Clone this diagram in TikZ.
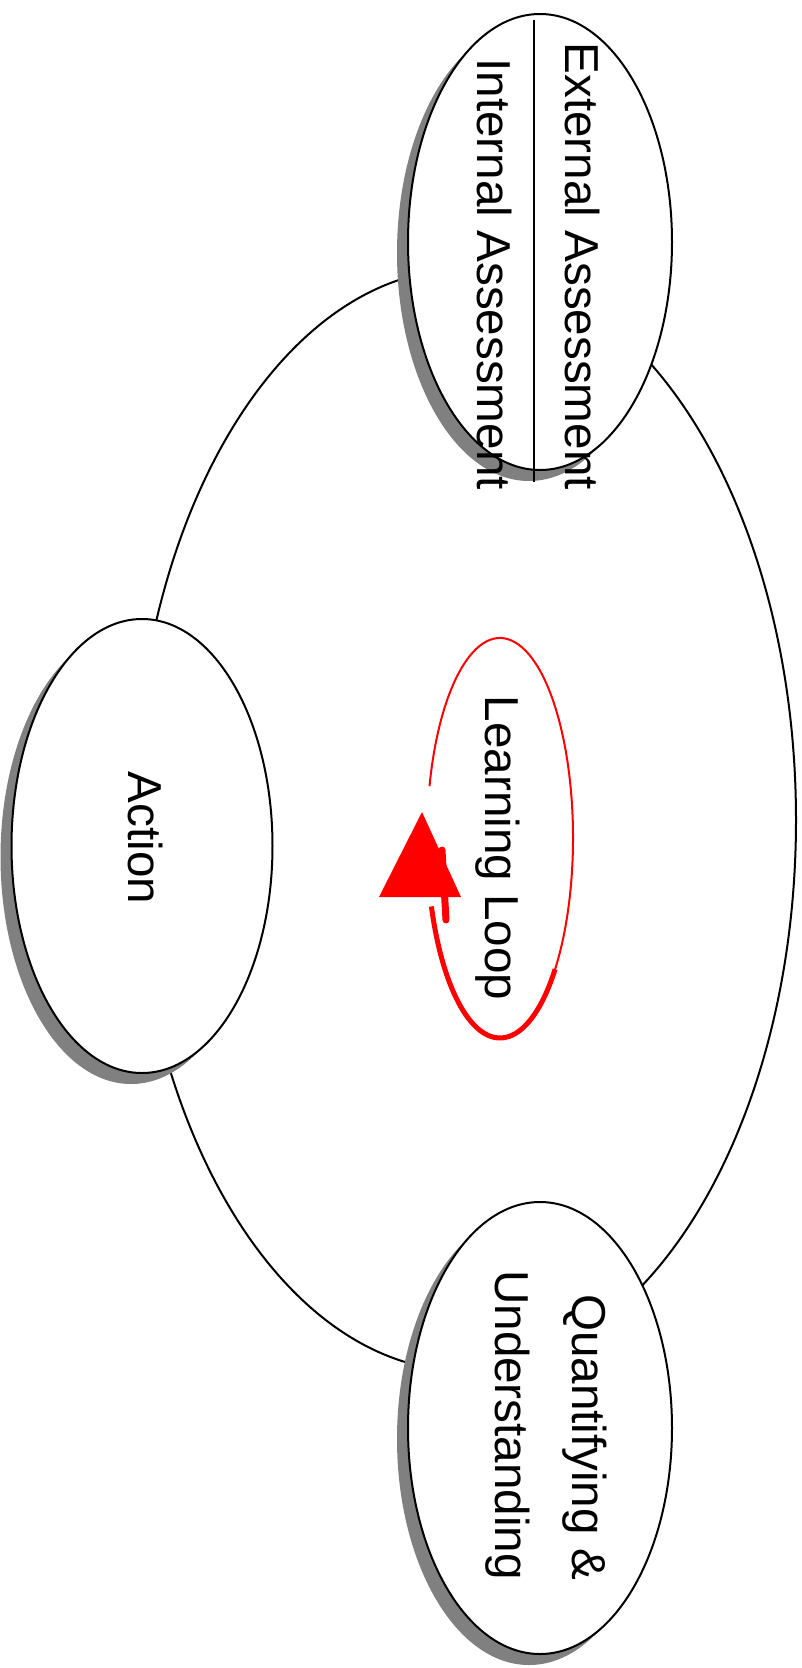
\documentclass[tikz,border=0pt]{standalone}
\usepackage{fontspec}
\setmainfont{Liberation Sans}
\usetikzlibrary{shapes.geometric,shadows}
\begin{document}
\begin{tikzpicture}[x=1pt,y=-1pt,
  bubble/.style={ellipse, draw=black, line width=2pt, fill=white, inner sep=0pt,
    drop shadow={shadow xshift=-11pt, shadow yshift=-11pt, fill=black!50, opacity=1}},
  lbl/.style={rotate=-90, inner sep=0pt, font=\fontsize{47.6}{57}\selectfont},
  ring/.style={draw=black, line width=2pt},
  loopthin/.style={draw=red, line width=2pt},
  loopthick/.style={draw=red, line width=5pt},
  divider/.style={draw=black, line width=2pt}
]
\useasboundingbox (0,0) rectangle (802,1668);
\fill[white] (0,0) rectangle (802,1668);
% outer cycle
\coordinate (ringc) at (465,820);
\draw[ring] (ringc) ellipse [x radius=331, y radius=551];
% bubbles
\node[bubble, minimum width=264pt, minimum height=456pt] (assess) at (540,242) {};
\node[bubble, minimum width=261pt, minimum height=454pt] (action) at (142,846) {};
\node[bubble, minimum width=264pt, minimum height=452pt] (quant) at (540,1428) {};
% divider in assessment bubble
\coordinate (divtop) at (534,20);
\coordinate (divbot) at (534,482);
\draw[divider] (divtop) -- (divbot);
% labels
\node[lbl, anchor=base east] (ext) at (565,490) {External Assessment};
\node[lbl, anchor=base east] (int) at (477,490) {Internal Assessment};
\node[lbl, anchor=base] (acttxt) at (128,838) {Action};
\node[lbl, anchor=base east] (q1) at (572,1580) {Quantifying \&};
\node[lbl, anchor=base east] (q2) at (495,1580) {Understanding};
% learning loop
\coordinate (lc) at (500,838);
\draw[loopthin] (lc) ++(195:73 and 200) arc[start angle=195, end angle=410, x radius=73, y radius=200];
\draw[loopthick] (lc) ++(41:73 and 200) arc[start angle=41, end angle=160, x radius=73, y radius=200];
\draw[red, line width=7pt, line cap=round] (442,850) -- (446,920);
\fill[red] (422,812) -- (379,897) -- (461,897) -- cycle;
\node[lbl, anchor=base] (looptxt) at (485,848) {Learning Loop};
\end{tikzpicture}
\end{document}
